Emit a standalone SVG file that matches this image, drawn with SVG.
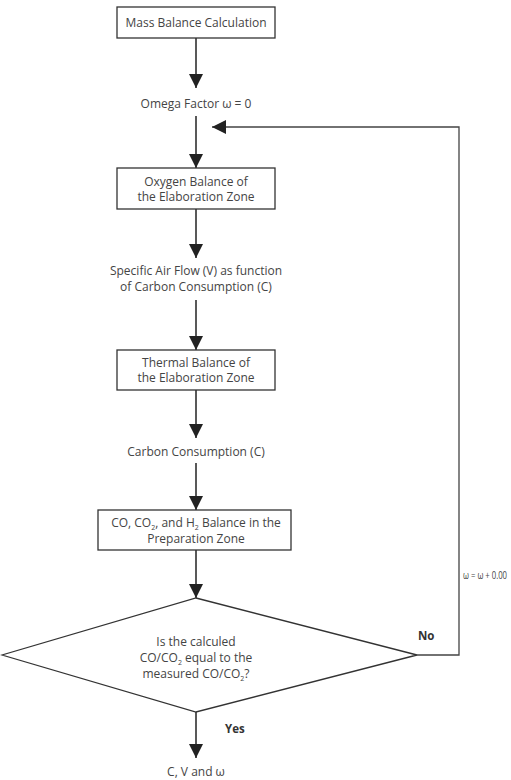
<svg xmlns="http://www.w3.org/2000/svg" width="511" height="780" viewBox="0 0 511 780">
<style>
.box{fill:#fff;stroke:#333;stroke-width:1.3}
.t{font-family:"Open Sans","DejaVu Sans",sans-serif;font-size:12px;fill:#444;text-anchor:middle}
.b{font-family:"Open Sans","DejaVu Sans",sans-serif;font-size:11.5px;font-weight:bold;fill:#333}
.ln{fill:none;stroke:#222;stroke-width:1.5}
.fb{fill:none;stroke:#444;stroke-width:1.3}
.sub{font-size:7px;baseline-shift:-3px}
</style>
<defs>
<marker id="ah" markerWidth="14" markerHeight="14" viewBox="0 0 14 14" refX="14" refY="7" orient="auto" markerUnits="userSpaceOnUse">
<path d="M0,0 L14,7 L0,14 Z" fill="#222"/>
</marker>
</defs>
<rect width="511" height="780" fill="#fff"/>
<g id="connectors">
<line class="ln" x1="196" y1="38" x2="196" y2="88" marker-end="url(#ah)"/>
<line class="ln" x1="196" y1="116" x2="196" y2="168" marker-end="url(#ah)"/>
<line class="ln" x1="196" y1="209" x2="196" y2="258" marker-end="url(#ah)"/>
<line class="ln" x1="196" y1="300" x2="196" y2="350" marker-end="url(#ah)"/>
<line class="ln" x1="196" y1="390" x2="196" y2="438" marker-end="url(#ah)"/>
<line class="ln" x1="196" y1="463" x2="196" y2="510" marker-end="url(#ah)"/>
<line class="ln" x1="196" y1="550" x2="196" y2="598" marker-end="url(#ah)"/>
<line class="ln" x1="196" y1="712" x2="196" y2="758" marker-end="url(#ah)"/>
<polyline class="fb" points="417,655 459,655 459,127 212,127" marker-end="url(#ah)"/>
<text class="b" x="418" y="640">No</text>
<text class="b" x="225" y="733">Yes</text>
<text class="t" x="463" y="579" style="text-anchor:start;font-size:11.5px" textLength="44" lengthAdjust="spacingAndGlyphs">ω = ω + 0.00</text>
</g>
<g id="n1">
<rect class="box" x="117" y="7" width="158" height="31"/>
<text class="t" x="196" y="26.5">Mass Balance Calculation</text>
</g>
<g id="n2">
<text class="t" x="196" y="107.5">Omega Factor ω = 0</text>
</g>
<g id="n3">
<rect class="box" x="117" y="168" width="158" height="41"/>
<text class="t" x="196" y="186">Oxygen Balance of</text>
<text class="t" x="196" y="201">the Elaboration Zone</text>
</g>
<g id="n4">
<text class="t" x="196" y="274.5">Specific Air Flow (V) as function</text>
<text class="t" x="196" y="291">of Carbon Consumption (C)</text>
</g>
<g id="n5">
<rect class="box" x="117" y="350" width="158" height="40"/>
<text class="t" x="196" y="367">Thermal Balance of</text>
<text class="t" x="196" y="382">the Elaboration Zone</text>
</g>
<g id="n6">
<text class="t" x="196" y="456">Carbon Consumption (C)</text>
</g>
<g id="n7">
<rect class="box" x="98" y="510" width="193" height="40"/>
<text class="t" x="196" y="527">CO, CO<tspan class="sub">2</tspan>, and H<tspan class="sub">2</tspan> Balance in the</text>
<text class="t" x="196" y="543">Preparation Zone</text>
</g>
<g id="n8">
<polygon class="box" points="196,598 417,655 196,712 2,655"/>
<text class="t" x="196" y="646">Is the calculed</text>
<text class="t" x="196" y="662">CO/CO<tspan class="sub">2</tspan> equal to the</text>
<text class="t" x="196" y="678">measured CO/CO<tspan class="sub">2</tspan>?</text>
</g>
<g id="n9">
<text class="t" x="196" y="776">C, V and ω</text>
</g>
</svg>
